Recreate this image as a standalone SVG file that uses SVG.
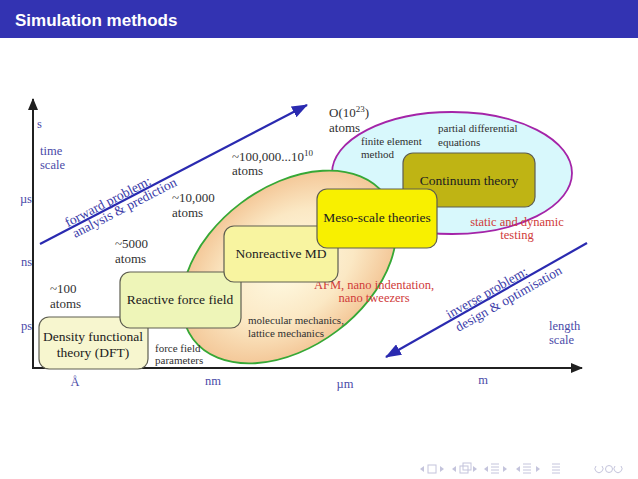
<svg xmlns="http://www.w3.org/2000/svg" width="638" height="479" viewBox="0 0 638 479">
<style>
.t{font-family:"Liberation Serif","Times New Roman",serif;font-size:13px;fill:#303030}
.s{font-family:"Liberation Serif","Times New Roman",serif;font-size:11px;fill:#303030}
.b{font-family:"Liberation Serif","Times New Roman",serif;font-size:12.5px;fill:#4a4aa8}
.rb{font-family:"Liberation Serif","Times New Roman",serif;font-size:13.5px;fill:#3a3aa8;text-anchor:middle}
.r{font-family:"Liberation Serif","Times New Roman",serif;font-size:12.5px;fill:#d03a3a}
.bl{font-family:"Liberation Serif","Times New Roman",serif;font-size:13.5px;fill:#202020;text-anchor:middle}
.box{stroke:#5e5e50;stroke-width:1.2}
.nav{fill:none;stroke:#c4c4dc;stroke-width:1}
.navf{fill:#c4c4dc}
</style>
<defs>
<marker id="ah" markerWidth="12" markerHeight="10" refX="11" refY="5" orient="auto" markerUnits="userSpaceOnUse"><path d="M0,0 L12,5 L0,10 Z" fill="#202020"/></marker>
<marker id="bh" markerWidth="16" markerHeight="12" refX="15" refY="6" orient="auto" markerUnits="userSpaceOnUse"><path d="M0,0 L16,6 L0,12 Z" fill="#2a2ab0"/></marker>
<radialGradient id="gg" cx="0.5" cy="0.5" r="0.55">
<stop offset="0" stop-color="#fffbe4"/><stop offset="0.55" stop-color="#fbe8c4"/><stop offset="1" stop-color="#f2c08e"/>
</radialGradient>
</defs>
<rect x="0" y="0" width="638" height="479" fill="#ffffff"/>
<g id="header">
<rect x="0" y="0" width="638" height="38" fill="#3333b2"/>
<text x="15" y="26" font-family="Liberation Sans,Arial,sans-serif" font-weight="bold" font-size="17" fill="#ffffff">Simulation methods</text>
</g>
<g id="regions">
<ellipse cx="452" cy="173" rx="120" ry="61" fill="#d8f8fc" stroke="#a424a8" stroke-width="1.8"/>
<ellipse cx="289" cy="267" rx="120" ry="80" transform="rotate(-37 289 267)" fill="url(#gg)" stroke="#36a836" stroke-width="1.8"/>
</g>
<g id="connectors">
<line x1="33" y1="368" x2="33" y2="99" stroke="#202020" stroke-width="2" marker-end="url(#ah)"/>
<line x1="32" y1="368" x2="582" y2="368" stroke="#202020" stroke-width="2" marker-end="url(#ah)"/>
<line x1="40" y1="244" x2="307" y2="105" stroke="#2a2ab0" stroke-width="2.2" marker-end="url(#bh)"/>
<line x1="587" y1="243" x2="386" y2="357" stroke="#2a2ab0" stroke-width="2.2" marker-end="url(#bh)"/>
</g>
<g id="axis-labels">
<text class="b" x="37" y="128">s</text>
<text class="b" x="40" y="155">time</text>
<text class="b" x="40" y="169">scale</text>
<text class="b" x="32" y="203" text-anchor="end">µs</text>
<text class="b" x="32" y="266" text-anchor="end">ns</text>
<text class="b" x="32" y="330" text-anchor="end">ps</text>
<text class="b" x="75" y="386" text-anchor="middle">Å</text>
<text class="b" x="213" y="385" text-anchor="middle">nm</text>
<text class="b" x="345" y="388" text-anchor="middle">µm</text>
<text class="b" x="483" y="384" text-anchor="middle">m</text>
<text class="b" x="549" y="330">length</text>
<text class="b" x="549" y="344">scale</text>
</g>
<g id="forward-label" transform="translate(108,202) rotate(-27.3)">
<text class="rb" x="0" y="4">forward problem:</text>
<text class="rb" x="12" y="17">analysis &amp; prediction</text>
</g>
<g id="inverse-label" transform="translate(487,293) rotate(-29.5)">
<text class="rb" x="0" y="4">inverse problem:</text>
<text class="rb" x="16" y="20">design &amp; optimisation</text>
</g>
<g id="atom-labels">
<text class="t" x="329" y="117">O(10<tspan font-size="9" dy="-5">23</tspan><tspan dy="5">)</tspan></text>
<text class="t" x="329" y="132">atoms</text>
<text class="t" x="232" y="161">~100,000...10<tspan font-size="9" dy="-5">10</tspan></text>
<text class="t" x="232" y="175">atoms</text>
<text class="t" x="172" y="202">~10,000</text>
<text class="t" x="172" y="217">atoms</text>
<text class="t" x="115" y="248">~5000</text>
<text class="t" x="115" y="263">atoms</text>
<text class="t" x="50" y="293">~100</text>
<text class="t" x="50" y="308">atoms</text>
</g>
<g id="method-labels">
<text class="s" x="361" y="145" font-size="12">finite element</text>
<text class="s" x="361" y="158" font-size="12">method</text>
<text class="s" x="438" y="132" font-size="12">partial differential</text>
<text class="s" x="438" y="146" font-size="12">equations</text>
<text class="r" x="517" y="226" text-anchor="middle">static and dynamic</text>
<text class="r" x="517" y="239" text-anchor="middle">testing</text>
<text class="r" x="374" y="289" text-anchor="middle">AFM, nano indentation,</text>
<text class="r" x="374" y="302" text-anchor="middle">nano tweezers</text>
<text class="s" x="248" y="324">molecular mechanics,</text>
<text class="s" x="248" y="337">lattice mechanics</text>
<text class="s" x="155" y="352">force field</text>
<text class="s" x="155" y="364">parameters</text>
</g>
<g id="dft">
<rect class="box" x="39" y="317" width="109" height="52" rx="10" fill="#f7f6cf"/>
<text class="bl" x="93" y="341">Density functional</text>
<text class="bl" x="93" y="357">theory (DFT)</text>
</g>
<g id="reactive">
<rect class="box" x="120" y="272" width="121" height="56" rx="10" fill="#eef5b8"/>
<text class="bl" x="180" y="304">Reactive force field</text>
</g>
<g id="nonreactive">
<rect class="box" x="224" y="226" width="114" height="56" rx="10" fill="#f8f4a0"/>
<text class="bl" x="281" y="258">Nonreactive MD</text>
</g>
<g id="continuum">
<rect class="box" x="403" y="153" width="132" height="54" rx="10" fill="#bfb414"/>
<text class="bl" x="469" y="185">Continuum theory</text>
</g>
<g id="meso">
<rect class="box" x="317" y="189" width="120" height="59" rx="10" fill="#f8f000"/>
<text class="bl" x="377" y="222">Meso-scale theories</text>
</g>
<g id="nav">
<path class="navf" d="M420,469 l4,-3 v6 z"/>
<rect class="nav" x="428" y="465" width="8" height="8"/>
<path class="navf" d="M444,469 l-4,-3 v6 z"/>
<path class="navf" d="M452,469 l4,-3 v6 z"/>
<rect class="nav" x="460" y="466" width="8" height="7"/><rect class="nav" x="463" y="463" width="8" height="7"/>
<path class="navf" d="M477,469 l-4,-3 v6 z"/>
<path class="navf" d="M484,469 l4,-3 v6 z"/>
<path class="nav" d="M491,464 h8 M491,467 h8 M491,470 h8 M491,473 h8"/>
<path class="navf" d="M507,469 l-4,-3 v6 z"/>
<path class="navf" d="M516,469 l4,-3 v6 z"/>
<path class="nav" d="M523,464 h8 M523,467 h8 M523,470 h8 M523,473 h8"/>
<path class="navf" d="M540,469 l-4,-3 v6 z"/>
<path class="nav" d="M552,464 h8 M552,467 h8 M552,470 h8 M552,473 h8"/>
<path class="nav" d="M596,466 a4,4 0 1 0 6,0"/>
<circle class="nav" cx="609" cy="469" r="3.5"/>
<path class="nav" d="M621,466 a4,4 0 1 1 -6,0"/>
</g>
</svg>
